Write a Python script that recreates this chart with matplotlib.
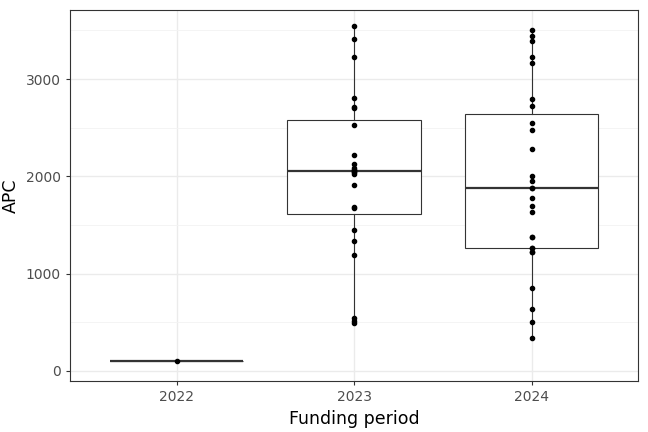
import numpy as np
import matplotlib.pyplot as plt

periods = ['2022', '2023', '2024']
apc_2022 = [100]
apc_2023 = [3549, 3409, 3227, 2809, 2717, 2706, 2532, 2216, 2124, 2083, 2062, 2062,
            2042, 2042, 2025, 1915, 1689, 1672, 1449, 1340, 1189, 541, 514, 493]
apc_2024 = [3504, 3446, 3388, 3230, 3169, 2792, 2720, 2552, 2477, 2285, 2004, 1956,
            1881, 1881, 1781, 1699, 1637, 1380, 1380, 1267, 1267, 1223, 1223, 850,
            634, 500, 339]
groups = [apc_2022, apc_2023, apc_2024]

plt.rcParams['font.family'] = 'DejaVu Sans'
fig = plt.figure(figsize=(6.48, 4.32), dpi=100)
ax = fig.add_axes([70 / 648, 51 / 432, 568 / 648, 371 / 432])

pos = np.arange(1, len(periods) + 1)
ax.boxplot(groups, positions=pos, widths=0.75, whis=1.5, showfliers=False,
           patch_artist=True,
           boxprops=dict(facecolor='white', edgecolor='#333333', linewidth=0.8),
           medianprops=dict(color='#333333', linewidth=1.6),
           whiskerprops=dict(color='#333333', linewidth=0.8),
           capprops=dict(linewidth=0), zorder=2)
for p, g in zip(pos, groups):
    ax.scatter([p] * len(g), g, s=9, color='black', zorder=3)

ax.set_xlim(0.4, 3.6)
ax.set_ylim(-103, 3710)
ax.set_xticks(pos)
ax.set_xticklabels(periods)
ax.set_yticks([0, 1000, 2000, 3000])
ax.set_yticks([500, 1500, 2500, 3500], minor=True)
ax.grid(True, which='major', color='#ebebeb', linewidth=1.0, zorder=0)
ax.grid(True, which='minor', axis='y', color='#f3f3f3', linewidth=0.6, zorder=0)
ax.set_axisbelow(True)
for s in ax.spines.values():
    s.set_color('#333333')
    s.set_linewidth(0.8)
ax.tick_params(colors='#333333', labelsize=10, length=3, labelcolor='#4d4d4d')
ax.tick_params(which='minor', length=0)
ax.set_xlabel('Funding period', fontsize=12.5)
ax.set_ylabel('APC', fontsize=12.5)

fig.savefig('out.png', dpi=100)
